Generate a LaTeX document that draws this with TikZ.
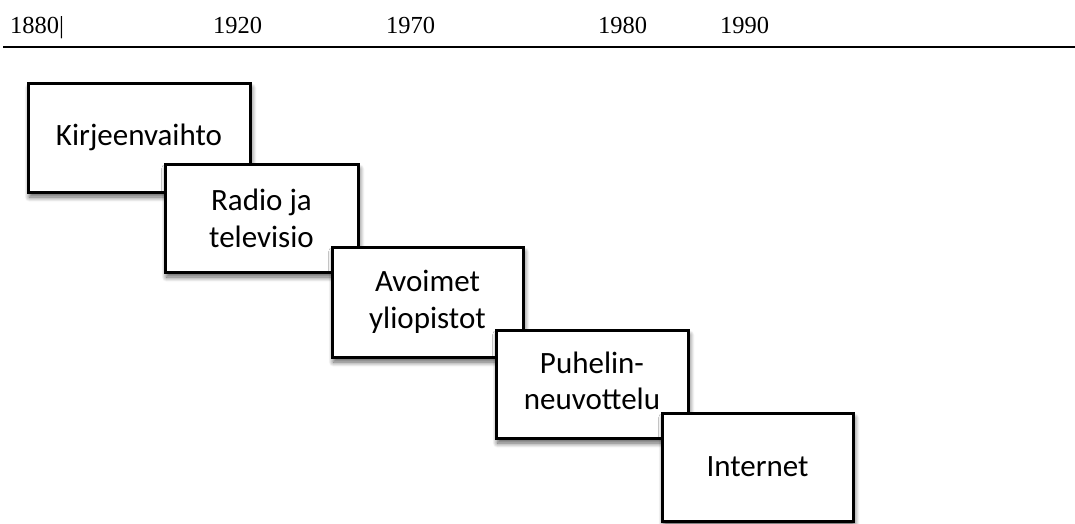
\documentclass[tikz,border=0pt]{standalone}
\usepackage{fontspec}
\setmainfont{Liberation Serif}
\newfontfamily\boxfont{Carlito}
\usetikzlibrary{shadows.blur}
\begin{document}
\begin{tikzpicture}[x=1pt,y=-1pt,
  yearlabel/.style={anchor=base west,inner sep=0pt,font=\fontsize{24.5}{29}\selectfont},
  stagebox/.style={draw=black,line width=3pt,fill=white,align=center,
    font=\boxfont\fontsize{31}{37}\selectfont,inner sep=0pt,
    blur shadow={shadow xshift=1.5pt,shadow yshift=-5pt,shadow blur steps=10,shadow opacity=65,shadow blur radius=5pt}}]
\useasboundingbox (0,0) rectangle (1075,523);
% timeline
\node[yearlabel] (y1880) at (10,33) {1880|};
\node[yearlabel] (y1920) at (213,33) {1920};
\node[yearlabel] (y1970) at (386,33) {1970};
\node[yearlabel] (y1980) at (598,33) {1980};
\node[yearlabel] (y1990) at (720,33) {1990};
\coordinate (lineL) at (3,47);
\coordinate (lineR) at (1075,47);
\draw[line width=2.5pt] (lineL) -- (lineR);
% stages
\node[stagebox,minimum width=222pt,minimum height=109pt] (b1) at (139,137.5) {Kirjeenvaihto};
\node[stagebox,minimum width=193pt,minimum height=108pt] (b2) at (261.5,218) {Radio ja\\televisio};
\node[stagebox,minimum width=191pt,minimum height=110pt] (b3) at (427.5,302) {Avoimet\\yliopistot};
\node[stagebox,minimum width=192pt,minimum height=108pt] (b4) at (592,384) {};
\node[anchor=center,align=center,inner sep=0pt,font=\boxfont\fontsize{31}{36}\selectfont] (b4t) at (592,381) {Puhelin-\\neuvottelu};
\node[stagebox,minimum width=191pt,minimum height=108pt] (b5) at (757.5,467) {Internet};
\end{tikzpicture}
\end{document}
